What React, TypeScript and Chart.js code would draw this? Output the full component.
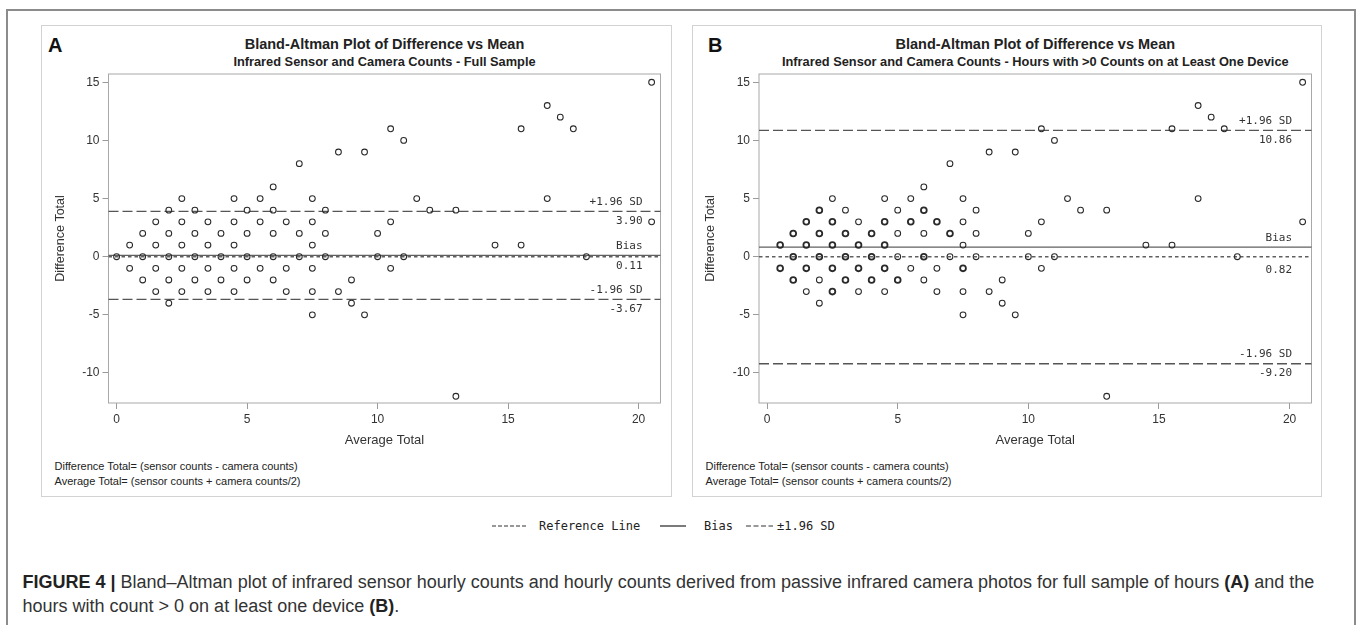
import React, { useEffect, useRef } from "react";
import { Chart, registerables } from "chart.js";

Chart.register(...registerables);

// ---------------- DATA ----------------
// Panel A: full sample (average total vs difference total)
const avgA = [
  0, 0.5, 0.5, 1, 1, 1, 1.5, 1.5, 1.5, 1.5, 2, 2, 2, 2, 2, 2.5, 2.5, 2.5, 2.5, 2.5,
  3, 3, 3, 3, 3.5, 3.5, 3.5, 3.5, 4, 4, 4, 4.5, 4.5, 4.5, 4.5, 4.5, 5, 5, 5, 5,
  5.5, 5.5, 5.5, 6, 6, 6, 6, 6, 6.5, 6.5, 6.5, 7, 7, 7, 7.5, 7.5, 7.5, 7.5, 7.5, 7.5,
  8, 8, 8, 8.5, 8.5, 9, 9, 9.5, 9.5, 10, 10, 10.5, 10.5, 10.5, 11, 11, 11.5, 12, 13, 13,
  14.5, 15.5, 15.5, 16.5, 16.5, 17, 17.5, 18, 20.5, 20.5,
];
const diffA = [
  0, 1, -1, 2, 0, -2, 3, 1, -1, -3, 4, 2, 0, -2, -4, 5, 3, 1, -1, -3,
  4, 2, 0, -2, 3, 1, -1, -3, 2, 0, -2, 5, 3, 1, -1, -3, 4, 2, 0, -2,
  5, 3, -1, 6, 4, 2, 0, -2, 3, -1, -3, 8, 2, 0, 5, 3, 1, -1, -3, -5,
  4, 2, 0, 9, -3, -2, -4, 9, -5, 2, 0, 11, 3, -1, 10, 0, 5, 4, 4, -12,
  1, 11, 1, 13, 5, 12, 11, 0, 15, 3,
];

// Panel B: hours with >0 counts on at least one device
const avgB = [
  0.5, 0.5, 1, 1, 1, 1.5, 1.5, 1.5, 1.5, 2, 2, 2, 2, 2, 2.5, 2.5, 2.5, 2.5, 2.5,
  3, 3, 3, 3, 3.5, 3.5, 3.5, 3.5, 4, 4, 4, 4.5, 4.5, 4.5, 4.5, 4.5, 5, 5, 5, 5,
  5.5, 5.5, 5.5, 6, 6, 6, 6, 6, 6.5, 6.5, 6.5, 7, 7, 7, 7.5, 7.5, 7.5, 7.5, 7.5, 7.5,
  8, 8, 8, 8.5, 8.5, 9, 9, 9.5, 9.5, 10, 10, 10.5, 10.5, 10.5, 11, 11, 11.5, 12, 13, 13,
  14.5, 15.5, 15.5, 16.5, 16.5, 17, 17.5, 18, 20.5, 20.5,
];
const diffB = [
  1, -1, 2, 0, -2, 3, 1, -1, -3, 4, 2, 0, -2, -4, 5, 3, 1, -1, -3,
  4, 2, 0, -2, 3, 1, -1, -3, 2, 0, -2, 5, 3, 1, -1, -3, 4, 2, 0, -2,
  5, 3, -1, 6, 4, 2, 0, -2, 3, -1, -3, 8, 2, 0, 5, 3, 1, -1, -3, -5,
  4, 2, 0, 9, -3, -2, -4, 9, -5, 2, 0, 11, 3, -1, 10, 0, 5, 4, 4, -12,
  1, 11, 1, 13, 5, 12, 11, 0, 15, 3,
];
// Points in panel B that are drawn heavier (overlapping observations)
const overlapAvgB = [0.5, 0.5, 1, 1, 1, 1.5, 1.5, 1.5, 2, 2, 2, 2.5, 2.5, 2.5, 2.5, 3, 3, 3, 3.5, 3.5, 4, 4, 4, 4.5, 4.5, 4.5, 5, 5.5, 6, 6, 6.5, 7, 7.5];
const overlapDiffB = [1, -1, 2, 0, -2, 3, 1, -1, 4, 2, 0, 3, 1, -1, -3, 2, 0, -2, 1, -1, 2, 0, -2, 3, 1, -1, -2, 3, 4, 0, 3, 2, -1];

// Reference / bias / limits of agreement
const refLineA = 0;
const biasA = 0.11;
const upperA = 3.9;
const lowerA = -3.67;
const refLineB = 0;
const biasB = 0.82;
const upperB = 10.86;
const lowerB = -9.2;

// Axes
const xTicks = [0, 5, 10, 15, 20];
const yTicks = [-10, -5, 0, 5, 10, 15];
const xMin = -0.31;
const xMax = 20.84;
const yMin = -12.58;
const yMax = 15.71;

const titleText = "Bland-Altman Plot of Difference vs Mean";
const subtitleA = "Infrared Sensor and Camera Counts - Full Sample";
const subtitleB = "Infrared Sensor and Camera Counts - Hours with >0 Counts on at Least One Device";
const footnotes = [
  "Difference Total= (sensor counts - camera counts)",
  "Average Total= (sensor counts + camera counts/2)",
];
const xTitle = "Average Total";
const yTitle = "Difference Total";
const legendLabels = ["Reference Line", "Bias", "\u00b11.96 SD"];
const upperLabel = "+1.96 SD";
const lowerLabel = "-1.96 SD";
const biasLabel = "Bias";

// ---------------- STYLE ----------------
const FONT = '"Liberation Sans", Arial, Helvetica, sans-serif';
const MONO = '"DejaVu Sans Mono", "Liberation Mono", monospace';
const TEXT = "#333333";

const baLinesPlugin = {
  id: "baLines",
  beforeDatasetsDraw(chart: any, _args: any, opts: any) {
    const { ctx, chartArea: ca, scales } = chart;
    const y = scales.y;
    ctx.save();
    // frame
    ctx.strokeStyle = "#a8a8a8";
    ctx.lineWidth = 1;
    ctx.setLineDash([]);
    ctx.strokeRect(ca.left, ca.top, ca.right - ca.left, ca.bottom - ca.top);

    const line = (v: number, dash: number[], color: string, w: number) => {
      const py = y.getPixelForValue(v);
      ctx.beginPath();
      ctx.setLineDash(dash);
      ctx.strokeStyle = color;
      ctx.lineWidth = w;
      ctx.moveTo(ca.left, py);
      ctx.lineTo(ca.right, py);
      ctx.stroke();
      return py;
    };
    const pRef = line(opts.ref, [3.5, 3], "#606060", 1.4);
    const pBias = line(opts.bias, [], "#606060", 1.3);
    const pUp = line(opts.upper, [10, 4], "#555555", 1.4);
    const pLo = line(opts.lower, [10, 4], "#555555", 1.4);

    ctx.setLineDash([]);
    ctx.fillStyle = TEXT;
    ctx.font = `11px ${MONO}`;
    ctx.textAlign = "right";
    ctx.textBaseline = "middle";
    const xr = ca.right - opts.labelInset;
    ctx.fillText(upperLabel, xr, pUp - 9.5);
    ctx.fillText(opts.upper.toFixed(2), xr, pUp + 10);
    ctx.fillText(biasLabel, xr, Math.min(pBias, pRef) - 9.5);
    ctx.fillText(opts.bias.toFixed(2), xr, Math.max(pBias, pRef) + opts.biasValueGap);
    ctx.fillText(lowerLabel, xr, pLo - 9.5);
    ctx.fillText(opts.lower.toFixed(2), xr, pLo + 9.5);
    ctx.restore();
  },
};

type Geom = { left: number; top: number; w: number; h: number; padL: number; padR: number; yAxisW: number };

function BAChart(props: {
  avg: number[];
  diff: number[];
  boldAvg: number[];
  boldDiff: number[];
  lines: { ref: number; bias: number; upper: number; lower: number; biasValueGap: number; labelInset: number };
  geom: Geom;
}) {
  const ref = useRef<HTMLCanvasElement>(null);
  const { avg, diff, boldAvg, boldDiff, lines, geom } = props;
  useEffect(() => {
    if (!ref.current) return;
    const boldKeys = new Set(boldAvg.map((a, i) => `${a},${boldDiff[i]}`));
    const chart = new Chart(ref.current, {
      type: "scatter",
      data: {
        datasets: [
          {
            data: avg.map((x, i) => ({ x, y: diff[i] })),
            pointStyle: "circle",
            pointRadius: 2.9,
            pointBorderColor: "#2a2a2a",
            pointBackgroundColor: "rgba(0,0,0,0)",
            pointBorderWidth: (c: any) => {
              const p = c.raw;
              return p && boldKeys.has(`${p.x},${p.y}`) ? 1.8 : 1.05;
            },
            showLine: false,
          } as any,
        ],
      },
      options: {
        animation: false,
        responsive: false,
        events: [],
        layout: { padding: { left: geom.padL, right: geom.padR, top: 49, bottom: 0 } },
        plugins: {
          legend: { display: false },
          tooltip: { enabled: false },
          title: { display: false },
          baLines: lines,
        } as any,
        scales: {
          x: {
            type: "linear",
            min: xMin,
            max: xMax,
            afterBuildTicks: (ax: any) => {
              ax.ticks = xTicks.map((v) => ({ value: v }));
            },
            afterFit: (ax: any) => {
              ax.height = 45;
            },
            ticks: {
              callback: (v: any) => String(v),
              color: TEXT,
              font: { family: FONT, size: 12 },
              padding: 3,
              maxRotation: 0,
              autoSkip: false,
            },
            grid: { drawOnChartArea: false, tickLength: 6, color: "#9a9a9a" },
            border: { display: false },
            title: { display: true, text: xTitle, color: TEXT, font: { family: FONT, size: 13 }, padding: 0 },
          },
          y: {
            type: "linear",
            min: yMin,
            max: yMax,
            afterBuildTicks: (ax: any) => {
              ax.ticks = yTicks.map((v) => ({ value: v }));
            },
            afterFit: (ax: any) => {
              ax.width = geom.yAxisW;
            },
            ticks: {
              callback: (v: any) => String(v),
              color: TEXT,
              font: { family: FONT, size: 12 },
              padding: 3,
              autoSkip: false,
            },
            grid: { drawOnChartArea: false, tickLength: 6, color: "#9a9a9a" },
            border: { display: false },
            title: {
              display: true,
              text: yTitle,
              color: TEXT,
              font: { family: FONT, size: 12.5, lineHeight: 1.2 },
              padding: 0,
            },
          },
        },
      } as any,
      plugins: [baLinesPlugin as any],
    });
    return () => chart.destroy();
  }, []);
  return (
    <canvas
      ref={ref}
      width={geom.w}
      height={geom.h}
      style={{ position: "absolute", left: geom.left, top: geom.top, width: geom.w, height: geom.h }}
    />
  );
}

function abs(left: number, top: number, extra: React.CSSProperties = {}): React.CSSProperties {
  return { position: "absolute", left, top, whiteSpace: "nowrap", ...extra };
}

function Panel(props: {
  boxLeft: number;
  boxWidth: number;
  letter: string;
  letterX: number;
  centerX: number;
  subtitle: string;
  footX: number;
}) {
  const { boxLeft, boxWidth, letter, letterX, centerX, subtitle, footX } = props;
  return (
    <>
      <div
        style={{
          position: "absolute",
          left: boxLeft,
          top: 25,
          width: boxWidth,
          height: 472,
          boxSizing: "border-box",
          border: "1px solid #d2d2d2",
        }}
      />
      <div style={abs(letterX, 35, { fontWeight: "bold", fontSize: 20, lineHeight: "20px", color: "#111" })}>{letter}</div>
      <div
        style={abs(centerX - 300, 35, {
          width: 600,
          textAlign: "center",
          fontWeight: "bold",
          fontSize: 14.5,
          lineHeight: "18px",
          color: "#222",
        })}
      >
        {titleText}
      </div>
      <div
        style={abs(centerX - 300, 54, {
          width: 600,
          textAlign: "center",
          fontWeight: "bold",
          fontSize: 12.8,
          lineHeight: "16px",
          color: "#222",
        })}
      >
        {subtitle}
      </div>
      {footnotes.map((t, i) => (
        <div key={i} style={abs(footX, 458.5 + i * 15, { fontSize: 11, lineHeight: "15px", color: "#222" })}>
          {t}
        </div>
      ))}
    </>
  );
}

export default function App() {
  return (
    <div
      style={{
        position: "absolute",
        left: 0,
        top: 0,
        width: 1357,
        height: 625,
        overflow: "hidden",
        background: "#ffffff",
        fontFamily: FONT,
        color: TEXT,
      }}
    >
      {/* outer figure frame */}
      <div
        style={{
          position: "absolute",
          left: 6,
          top: 9,
          width: 1350,
          height: 700,
          boxSizing: "border-box",
          border: "2px solid #8c8c8c",
        }}
      />

      <Panel boxLeft={41} boxWidth={631} letter="A" letterX={48} centerX={384.5} subtitle={subtitleA} footX={54.5} />
      <Panel boxLeft={692} boxWidth={630} letter="B" letterX={708} centerX={1035.3} subtitle={subtitleB} footX={705.5} />

      <BAChart
        avg={avgA}
        diff={diffA}
        boldAvg={[]}
        boldDiff={[]}
        lines={{ ref: refLineA, bias: biasA, upper: upperA, lower: lowerA, biasValueGap: 9, labelInset: 18 }}
        geom={{ left: 41, top: 25, w: 631, h: 423, padL: 12.5, padR: 11.5, yAxisW: 55 }}
      />
      <BAChart
        avg={avgB}
        diff={diffB}
        boldAvg={overlapAvgB}
        boldDiff={overlapDiffB}
        lines={{ ref: refLineB, bias: biasB, upper: upperB, lower: lowerB, biasValueGap: 13.5, labelInset: 19.5 }}
        geom={{ left: 693, top: 25, w: 629, h: 423, padL: 10.5, padR: 10.5, yAxisW: 55.5 }}
      />

      {/* shared legend */}
      <svg style={{ position: "absolute", left: 0, top: 518, overflow: "visible" }} width={1357} height={16}>
        <line x1={492} x2={526} y1={8} y2={8} stroke="#333" strokeWidth={1.2} strokeDasharray="4 2" />
        <line x1={660} x2={686} y1={8} y2={8} stroke="#333" strokeWidth={1.3} />
        <line x1={746} x2={773} y1={8} y2={8} stroke="#333" strokeWidth={1.2} strokeDasharray="5 2.5" />
      </svg>
      <div style={abs(539, 518, { fontFamily: MONO, fontSize: 12, lineHeight: "16px", color: "#222" })}>{legendLabels[0]}</div>
      <div style={abs(704, 518, { fontFamily: MONO, fontSize: 12, lineHeight: "16px", color: "#222" })}>{legendLabels[1]}</div>
      <div style={abs(777, 518, { fontFamily: MONO, fontSize: 12, lineHeight: "16px", color: "#222" })}>{legendLabels[2]}</div>

      {/* caption */}
      <div style={abs(22.5, 570, { fontSize: 18, lineHeight: "24px", color: "#333" })}>
        <b style={{ color: "#222" }}>FIGURE 4 |</b> Bland–Altman plot of infrared sensor hourly counts and hourly counts
        derived from passive infrared camera photos for full sample of hours <b style={{ color: "#222" }}>(A)</b> and the
        <br />
        hours with count &gt; 0 on at least one device <b style={{ color: "#222" }}>(B)</b>.
      </div>
    </div>
  );
}
